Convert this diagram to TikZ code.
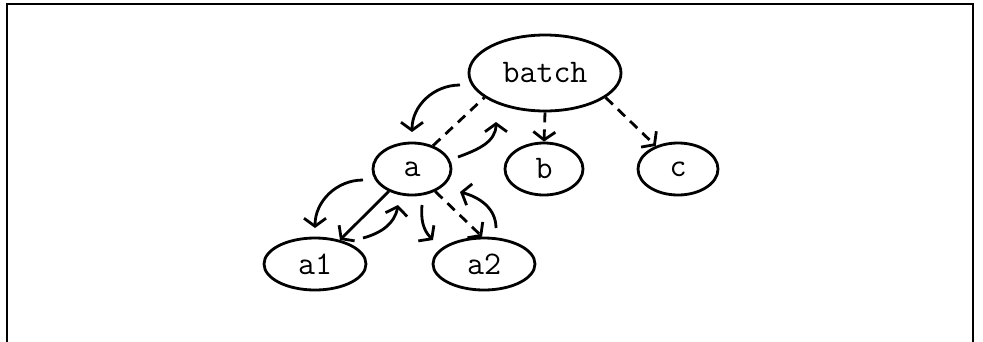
\documentclass[tikz,border=0pt]{standalone}
\usetikzlibrary{shapes.geometric,arrows.meta}

\begin{document}
\begin{tikzpicture}[x=1pt,y=1pt,line width=2.8pt,
  vertex/.style={draw,ellipse,inner sep=0pt,font=\fontsize{33}{38}\selectfont\ttfamily},
  walk/.style={-{Straight Barb[length=8pt,width=22pt]}},
  dashedge/.style={dash pattern=on 10pt off 7pt}]
  \useasboundingbox (0,0) rectangle (983,-341);
  \draw (7,-345) -- (7,-4) -- (973,-4) -- (973,-345);

  \node[vertex,minimum width=152pt,minimum height=76pt] (batch) at (545,-73) {batch};
  \node[vertex,minimum width=78pt,minimum height=52pt] (a) at (412,-169) {a};
  \node[vertex,minimum width=78pt,minimum height=52pt] (b) at (544,-169) {b};
  \node[vertex,minimum width=80pt,minimum height=52pt] (c) at (678,-169) {c};
  \node[vertex,minimum width=102pt,minimum height=52pt] (a1) at (315,-264) {a1};
  \node[vertex,minimum width=102pt,minimum height=52pt] (a2) at (484,-264) {a2};

  \draw[dashedge] (a.48) -- (batch.202);
  \draw[dashedge,walk] (batch.south) -- (b.north);
  \draw[dashedge,walk] (batch.-22) -- (c.134);
  \draw[walk] (a.-136) -- (a1.44);
  \draw[dashedge,walk] (a.-44) -- (a2.94);

  % order of the walk
  \coordinate (w1s) at (460,-85);  \coordinate (w1e) at (412,-132);
  \coordinate (w2s) at (458,-157); \coordinate (w2e) at (496,-122);
  \coordinate (w3s) at (363,-180); \coordinate (w3e) at (315,-228);
  \coordinate (w4s) at (363,-238); \coordinate (w4e) at (398,-205);
  \coordinate (w5s) at (422,-205); \coordinate (w5e) at (433,-240);
  \coordinate (w6s) at (496,-228); \coordinate (w6e) at (460,-192);
  \draw[walk] (w1s) to[out=180,in=90] (w1e);
  \draw[walk] (w2s) to[out=20,in=-90] (w2e);
  \draw[walk] (w3s) to[out=180,in=90] (w3e);
  \draw[walk] (w4s) to[out=15,in=-100] (w4e);
  \draw[walk] (w5s) to[out=-95,in=135] (w5e);
  \draw[walk] (w6s) to[out=90,in=-15] (w6e);
\end{tikzpicture}
\end{document}
